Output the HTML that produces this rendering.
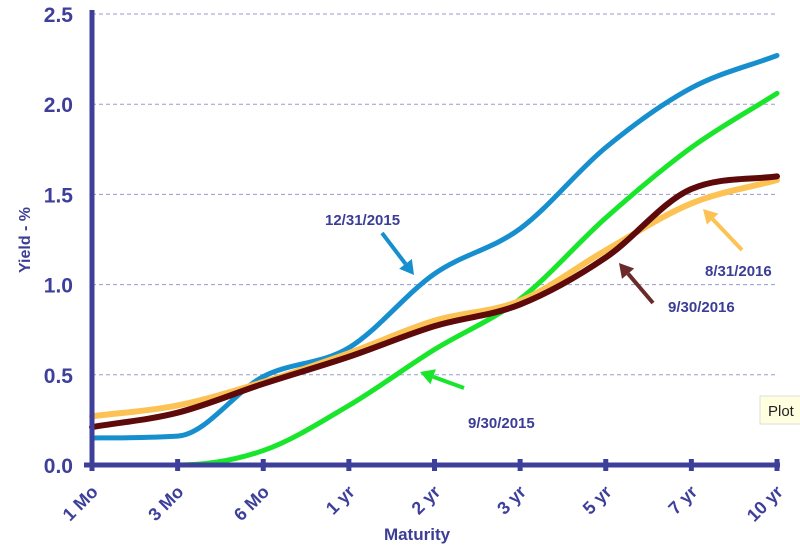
<!DOCTYPE html>
<html><head><meta charset="utf-8"><style>
html,body{margin:0;padding:0;background:#fff;width:800px;height:552px;overflow:hidden}
svg{display:block;font-family:"Liberation Sans",Arial,sans-serif}
</style></head><body>
<svg id="chart" width="800" height="552" viewBox="0 0 800 552">
<g id="grid"></g>
<g id="series"></g>
<g id="axes"></g>
<g id="annot"></g>
<text x="30" y="240" transform="rotate(-90 30 240)" text-anchor="middle" font-size="16" font-weight="bold" fill="#3b3d96">Yield - %</text>
<text x="417" y="540" text-anchor="middle" font-size="17" font-weight="bold" fill="#3b3d96">Maturity</text>
<g><rect x="760" y="396" width="42" height="28" fill="#ffffe0" stroke="#ddd"/><text x="768" y="416" font-size="15" fill="#222">Plot</text></g>
</svg>
<script>
const categories=["1 Mo","3 Mo","6 Mo","1 yr","2 yr","3 yr","5 yr","7 yr","10 yr"];
const yTicks=[0,0.5,1.0,1.5,2.0,2.5];
const s1231_2015=[0.15,0.16,0.49,0.65,1.06,1.31,1.76,2.09,2.27];
const s0930_2015=[0.00,0.00,0.08,0.33,0.64,0.92,1.37,1.76,2.06];
const s0831_2016=[0.27,0.33,0.46,0.62,0.80,0.91,1.19,1.45,1.58];
const s0930_2016=[0.21,0.29,0.45,0.60,0.77,0.89,1.15,1.53,1.60];
const NS="http://www.w3.org/2000/svg";
const X0=92,X1=777,Y0=465,Y1=14,AX="#3d3f9b";
const xs=i=>X0+(X1-X0)*i/(categories.length-1);
const ys=v=>Y0-(Y0-Y1)*v/2.5;
function mk(t,a,p){const e=document.createElementNS(NS,t);for(const k in a)e.setAttribute(k,a[k]);p.appendChild(e);return e;}
const grid=document.getElementById('grid'),axes=document.getElementById('axes'),ser=document.getElementById('series'),ann=document.getElementById('annot');
yTicks.forEach(v=>{
  if(v>0){const l=mk('line',{x1:X0,x2:X1,y1:ys(v),y2:ys(v),stroke:"#9a9ad0","stroke-width":1,"stroke-dasharray":"4,3"},grid);
  
  }
  const t=mk('text',{x:73,y:ys(v)+8,"text-anchor":"end","font-size":21,"font-weight":"bold",fill:AX},axes);
  t.textContent=v.toFixed(1);
  
  
});
const ya=mk('line',{x1:X0,x2:X0,y1:Y1-4,y2:Y0+3,stroke:AX,"stroke-width":5},axes);


const xa=mk('line',{x1:X0-8,x2:X1+3,y1:Y0,y2:Y0,stroke:AX,"stroke-width":5},axes);


categories.forEach((c,i)=>{
  const tk=mk('line',{x1:xs(i),x2:xs(i),y1:Y0-6,y2:Y0+6,stroke:AX,"stroke-width":5},axes);
  
  
  const x=xs(i)+7,y=Y0+28;
  const t=mk('text',{x:x,y:y,"text-anchor":"end","font-size":18,"font-weight":"bold",fill:AX,transform:`rotate(-45 ${x} ${y})`},axes);
  t.textContent=c;
  
  
});
function path(vals){
  const p=vals.map((v,i)=>[xs(i),ys(v)]);
  const n=p.length,h=p[1][0]-p[0][0];
  const d=[];for(let i=0;i<n-1;i++)d.push((p[i+1][1]-p[i][1])/h);
  const m=[d[0]];
  for(let i=1;i<n-1;i++){m.push(d[i-1]*d[i]<=0?0:(d[i-1]+d[i])/2);}
  m.push(d[n-2]);
  for(let i=0;i<n-1;i++){
    if(d[i]===0){m[i]=0;m[i+1]=0;continue;}
    const a=m[i]/d[i],b=m[i+1]/d[i],s=a*a+b*b;
    if(s>9){const t=3/Math.sqrt(s);m[i]=t*a*d[i];m[i+1]=t*b*d[i];}
  }
  let s=`M${p[0][0]},${p[0][1]}`;
  for(let i=0;i<n-1;i++){
    s+=` C${p[i][0]+h/3},${p[i][1]+m[i]*h/3} ${p[i+1][0]-h/3},${p[i+1][1]-m[i+1]*h/3} ${p[i+1][0]},${p[i+1][1]}`;
  }
  return s;
}
const defs=[[s0930_2015,"#19e62b",5,"line-9-30-2015"],[s1231_2015,"#178fce",5,"line-12-31-2015"],[s0831_2016,"#fdc254",6,"line-8-31-2016"],[s0930_2016,"#5e0a0a",6,"line-9-30-2016"]];
defs.forEach(([v,c,w,n])=>{
  const e=mk('path',{d:path(v),fill:"none",stroke:c,"stroke-width":w,"stroke-linecap":"round"},ser);
  
  
});
function arrow(x1,y1,x2,y2,c,label,lx,ly,name){
  const g=mk('g',{},ann);
  
  
  const ang=Math.atan2(y2-y1,x2-x1),L=14,W=8;
  const bx=x2-L*Math.cos(ang),by=y2-L*Math.sin(ang);
  mk('line',{x1:x1,y1:y1,x2:bx,y2:by,stroke:c,"stroke-width":4},g);
  mk('polygon',{points:`${x2},${y2} ${bx+W*Math.sin(ang)},${by-W*Math.cos(ang)} ${bx-W*Math.sin(ang)},${by+W*Math.cos(ang)}`,fill:c},g);
  const t=mk('text',{x:lx,y:ly,"font-size":15,"font-weight":"bold",fill:"#3b3d96"},g);
  t.textContent=label;
}
arrow(382,233,414,275,"#178fce","12/31/2015",325,225,"label-12-31-2015");
arrow(464,388,420,372,"#19e62b","9/30/2015",468,428,"label-9-30-2015");
arrow(742,250,703,209,"#fdc254","8/31/2016",705,276,"label-8-31-2016");
arrow(653,303,619,263,"#6b2a2a","9/30/2016",668,312,"label-9-30-2016");
</script>
</body></html>
